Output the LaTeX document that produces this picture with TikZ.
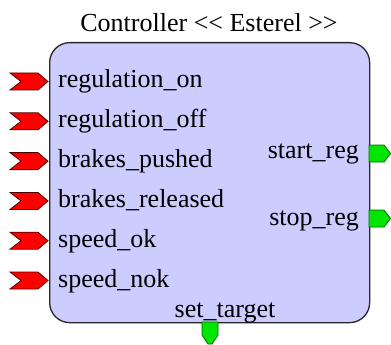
\documentclass[tikz,border=0pt]{standalone}
\usepackage{fontspec}
\setmainfont{Liberation Serif}
\usetikzlibrary{positioning}
\definecolor{blockfill}{RGB}{204,204,255}
\definecolor{inred}{RGB}{255,0,0}
\definecolor{outgreen}{RGB}{0,230,0}

\begin{document}
\begin{tikzpicture}[
  x=1pt,y=-1pt,
  block/.style={draw=black!85,line width=1.3pt,rounded corners=20pt,fill=blockfill,
    minimum width=320pt,minimum height=280pt,inner sep=0pt},
  lbl/.style={inner sep=0pt,font=\fontsize{26}{30}\selectfont},
  inport/.style={draw=black!70!red,line width=0.8pt,fill=inred},
  outport/.style={draw=black!60!green,line width=0.8pt,fill=outgreen}
]
\useasboundingbox (0,0) rectangle (391,345);

% the Esterel block
\node[block,anchor=north west] (ctrl) at (49,42) {};
\node[lbl,anchor=base] (title) at (209,32) {Controller <\kern0pt< Esterel >\kern0pt>};

% input signals
\foreach \sig [count=\i] in {regulation\_on,regulation\_off,brakes\_pushed,
    brakes\_released,speed\_ok,speed\_nok} {
  \pgfmathsetmacro{\by}{88+(\i-1)*39.8}
  \node[lbl,anchor=base west] (in\i) at (58,\by) {\sig};
  \draw[inport,shift={(0,\by-6.5)}] (10,-8.5) -- (38,-8.5) -- (48,0) -- (38,8.5)
    -- (10,8.5) -- (21,0) -- cycle;
}

% output signals
\node[lbl,anchor=base east] (start) at (359,158) {start\_reg};
\node[lbl,anchor=base east] (stop) at (359,225) {stop\_reg};
\node[lbl,anchor=base] (target) at (225,317) {set\_target};
\draw[outport] (369,145) -- (384,145) -- (390.5,153.5) -- (384,162)
  -- (369,162) -- cycle;
\draw[outport] (369,210) -- (384,210) -- (390.5,218.5) -- (384,227)
  -- (369,227) -- cycle;
\draw[outport] (202,322) -- (202,335) -- (208,344) -- (212,344) -- (218,335)
  -- (218,322) -- cycle;
\end{tikzpicture}
\end{document}
